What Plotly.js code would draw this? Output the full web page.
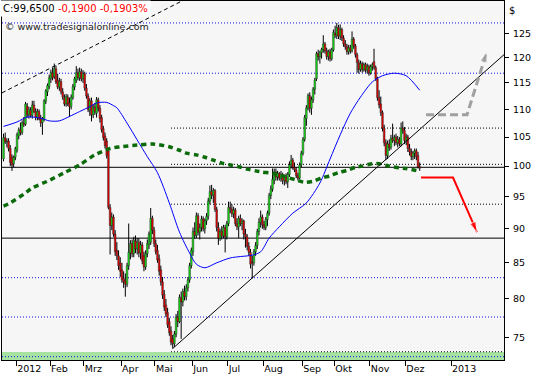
<!DOCTYPE html>
<html><head><meta charset="utf-8">
<script src="https://cdn.plot.ly/plotly-3.0.1.min.js"></script>
<style>html,body{margin:0;padding:0;background:#fff}#chart{width:540px;height:380px}</style>
</head><body><div id="chart"></div>
<script>
// ---- daily OHLC (trading days from 2011-12-20) ----
const open = [101.2,104.9,104.2,104.3,103.0,101.5,100.4,101.5,102.7,105.2,
106.3,105.8,107.5,107.3,110.6,109.0,109.8,108.9,110.8,109.6,
108.5,109.6,108.3,107.6,108.2,111.5,113.3,114.3,115.8,117.0,
116.2,117.8,115.5,114.2,115.3,113.3,112.2,111.0,112.3,111.2,
110.5,112.2,114.2,115.5,117.0,116.0,117.2,115.8,116.8,114.0,
112.5,109.8,111.6,109.0,110.4,109.3,111.8,110.2,108.5,106.5,
105.2,104.3,102.6,93.3,90.5,91.8,89.2,86.8,86.0,85.0,
84.0,82.8,82.5,82.0,84.6,86.4,87.8,86.3,88.2,87.0,
88.0,86.4,87.6,86.0,84.4,86.3,87.6,88.0,91.6,89.8,
87.8,86.8,85.6,84.0,82.3,80.6,79.2,78.2,77.0,75.8,
74.8,74.2,75.4,77.6,77.0,80.2,79.6,81.0,80.3,81.5,
82.6,84.6,86.6,89.6,89.0,92.0,89.5,90.2,91.5,90.0,
91.2,91.9,94.3,95.8,95.2,96.0,93.0,90.2,88.6,89.6,
88.9,90.2,88.8,90.8,93.3,93.0,92.3,92.9,90.8,90.3,
91.6,90.8,91.2,89.2,88.8,87.4,86.5,85.2,85.0,86.6,
87.5,89.6,91.0,91.8,90.6,90.2,91.4,92.4,95.2,96.2,
97.6,99.0,98.2,98.8,98.0,98.6,97.6,98.2,97.4,98.6,
100.2,101.0,99.8,99.4,98.4,98.0,100.2,102.2,104.6,108.3,
110.3,112.6,110.2,111.8,113.8,115.8,120.8,120.2,121.0,121.6,
122.8,121.4,120.2,121.2,119.8,121.6,125.0,124.6,126.2,124.4,
125.8,124.0,122.8,122.2,121.2,122.0,121.4,123.8,122.4,120.6,
119.0,117.6,118.8,117.6,118.6,117.5,118.2,116.9,118.2,119.2,
118.0,115.8,112.2,111.0,109.4,106.6,104.0,101.8,103.8,103.2,
104.8,104.4,105.0,104.0,104.6,103.8,106.6,106.2,104.4,105.0,
103.0,102.4,101.6,102.2,102.6,101.8,99.9];
const high = [105.6,105.8,104.8,104.8,103.6,102.0,101.8,103.3,105.8,106.7,
107.6,108.0,108.6,111.4,111.2,110.5,110.4,111.6,111.6,110.2,
110.1,110.0,109.0,108.6,111.9,113.8,114.9,116.6,117.6,118.0,
118.8,118.4,116.8,116.0,115.8,114.0,112.8,112.9,112.8,112.2,
112.8,114.8,116.2,118.3,117.8,118.0,117.8,117.5,117.2,114.8,
113.0,112.1,112.2,110.9,111.2,112.3,112.2,110.8,109.0,107.0,
105.8,104.8,103.0,93.8,92.5,92.2,89.8,88.0,86.8,85.8,
85.0,83.8,83.5,85.0,90.8,88.3,88.4,88.8,89.0,88.6,
88.6,88.2,88.0,86.6,86.8,88.4,89.6,93.2,92.0,90.3,
88.4,87.6,86.2,84.6,83.0,81.2,80.0,78.8,77.5,76.4,
75.3,75.8,78.0,78.4,80.6,81.0,81.4,81.8,82.0,83.0,
85.0,87.2,90.2,91.0,92.5,92.4,90.8,92.0,91.9,91.6,
92.4,94.8,96.8,96.9,96.4,96.2,93.4,91.0,90.0,90.4,
90.6,90.6,91.2,94.2,94.2,93.8,93.4,93.2,91.6,92.0,
92.2,91.6,91.4,90.0,89.2,88.0,87.0,86.0,87.0,88.0,
90.0,91.6,92.8,92.2,91.2,91.8,92.8,95.6,96.8,99.6,
99.6,99.6,99.2,99.0,99.2,98.9,98.6,98.8,99.0,100.8,
101.9,101.4,100.6,99.8,98.9,100.6,102.6,105.0,109.0,110.8,
113.0,113.2,112.4,114.2,116.0,121.2,121.6,121.4,122.0,124.6,
123.2,122.0,121.6,121.8,122.0,125.8,126.6,127.2,126.8,126.9,
126.2,124.6,123.6,122.8,122.6,122.6,125.4,124.2,122.8,121.0,
119.6,119.4,119.2,119.0,119.0,118.8,118.6,118.6,119.0,121.8,
118.4,116.2,113.6,112.4,109.8,107.2,104.6,104.4,104.6,105.4,
107.4,105.4,105.6,105.2,105.0,107.6,107.8,106.8,105.6,105.4,
103.8,103.0,102.6,103.0,103.0,102.4,100.6];
const low = [100.8,103.8,103.2,102.5,100.0,99.2,99.8,101.0,102.3,104.6,
105.3,105.4,106.8,107.0,108.5,108.3,108.5,108.3,109.3,108.0,
108.0,108.0,106.8,105.4,107.8,111.0,112.5,113.8,115.0,115.5,
115.8,114.8,113.8,113.5,112.8,111.8,110.6,110.5,110.6,108.6,
110.0,111.8,113.6,115.0,115.5,115.4,115.3,115.0,113.5,112.0,
109.5,108.8,107.8,108.4,109.0,108.5,109.6,107.6,105.8,104.4,
103.0,101.3,93.0,86.2,89.8,88.8,86.0,85.4,84.0,83.0,
82.2,81.5,80.3,81.6,84.0,85.5,85.8,85.8,86.4,86.2,
85.8,85.5,84.8,83.8,84.0,85.8,87.0,87.6,89.2,87.3,
86.2,85.0,83.2,81.8,80.0,78.4,77.6,76.2,75.2,74.0,
73.6,73.8,75.0,76.3,76.8,74.8,79.0,79.8,79.8,81.0,
82.2,84.2,86.0,88.5,88.6,89.0,88.4,89.6,89.6,89.3,
90.6,91.4,93.8,94.6,94.0,92.6,89.6,87.6,88.2,88.4,
88.6,86.5,88.4,90.4,92.4,91.8,91.6,90.4,89.8,88.6,
90.4,89.8,88.4,87.2,86.8,86.0,84.2,82.8,84.6,86.0,
87.0,89.0,90.2,90.0,89.8,89.8,90.4,92.0,94.6,95.8,
97.0,97.6,97.6,97.6,97.4,97.0,96.8,97.0,96.4,98.2,
99.6,99.4,99.0,98.0,97.6,97.8,99.8,101.8,104.2,107.0,
109.8,109.4,109.0,111.2,112.8,115.4,119.4,118.8,119.8,121.0,
120.8,119.6,119.4,119.2,119.4,121.2,124.0,123.8,123.8,123.6,
123.4,122.2,121.6,120.6,120.6,120.8,121.0,121.8,120.0,117.0,
116.8,117.2,117.0,117.2,117.0,116.8,116.4,116.6,117.4,117.6,
115.4,111.6,110.2,108.8,106.0,103.4,101.0,101.2,102.6,102.8,
104.0,103.4,103.6,103.2,103.4,103.4,105.6,103.8,103.6,102.4,
101.8,101.0,101.0,101.2,101.0,99.6,99.2];
const close = [104.9,104.2,104.3,103.0,100.6,100.2,101.5,103.0,105.4,106.3,
105.8,107.6,107.2,111.0,109.0,110.0,108.9,110.8,109.6,108.5,
109.6,108.2,107.5,108.2,111.6,113.5,114.5,116.0,117.0,116.0,
117.8,115.2,114.2,115.3,113.3,112.3,111.0,112.4,111.0,110.5,
112.3,114.3,115.8,117.0,116.0,117.2,115.8,116.8,114.0,112.5,
110.0,111.6,109.0,110.4,109.6,111.8,110.2,108.3,106.3,104.9,
103.5,101.8,93.3,90.5,91.8,89.2,86.6,86.0,84.6,83.8,
82.6,82.3,82.0,84.6,86.5,87.8,86.3,88.3,87.0,88.0,
86.4,87.6,85.3,84.4,86.3,87.8,89.2,91.6,89.8,87.8,
86.6,85.4,83.8,82.3,80.5,78.9,78.0,76.6,75.6,74.4,
74.2,75.4,77.6,77.0,80.2,79.6,81.0,80.3,81.5,82.6,
84.6,86.8,89.6,89.0,92.0,89.5,90.2,91.5,90.0,91.2,
91.9,94.3,95.8,95.2,96.0,93.0,90.2,88.6,89.6,88.9,
90.2,88.8,90.8,93.3,93.0,92.3,92.9,90.8,90.3,91.6,
90.8,91.2,89.2,88.8,87.4,86.5,84.8,85.0,86.6,87.5,
89.6,91.0,91.8,90.6,90.2,91.4,92.4,95.2,96.2,97.8,
99.0,98.2,98.8,98.0,98.6,97.6,98.2,97.4,98.6,100.2,
101.0,99.8,99.4,98.4,98.0,100.2,102.2,104.6,108.5,110.3,
112.6,110.2,111.8,113.8,115.6,120.8,120.2,121.0,121.6,122.8,
121.4,120.2,121.2,119.8,121.6,125.2,124.6,126.2,124.4,125.8,
124.0,122.8,122.2,121.2,122.0,121.4,123.8,122.4,120.6,119.0,
117.6,118.8,117.6,118.6,117.5,118.2,116.9,118.2,118.6,118.0,
115.8,112.2,110.8,109.4,106.6,104.0,101.8,103.8,103.2,104.8,
104.4,105.0,104.0,104.6,103.8,106.6,106.2,104.4,105.0,103.0,
102.4,101.6,102.2,102.6,101.6,99.84,99.65];

const firstDay = '2011-12-20';
const holidays = ['2011-12-26','2012-01-02','2012-01-16','2012-02-20','2012-04-06','2012-05-28',
  '2012-07-04','2012-09-03','2012-10-29','2012-10-30','2012-11-22'];

// moving averages (trading-day index, value)
const blueIdx = [0,8,14,22,27,33,39,45,51,55,61,65,67,73,79,85,91,98,104,110,114,119,126,134,140,147,152,157,163,171,179,187,193,199,205,211,218,224,231,238,246];
const blueVal = [106.9,107.7,108.6,108.4,107.9,107.9,108.7,109.6,110.5,111.2,111.3,110.7,110.3,107.5,104.5,101.6,98.9,94.0,89.5,86.4,84.8,84.3,85.0,85.7,85.9,86.1,86.6,88.6,90.3,92.4,94.0,97.2,101.2,105.4,109.3,112.3,115.2,116.4,116.9,116.4,113.6];
const greenIdx = [0,4,13,17,26,36,45,54,63,69,79,88,98,104,108,114,119,124,129,134,139,144,149,153,159,163,173,178,183,188,193,198,203,208,212,218,222,228,234,238,245];
const greenVal = [93.5,94.0,95.6,96.4,97.5,98.9,100.2,101.9,103.0,103.3,103.6,103.8,103.3,102.7,102.2,101.9,101.5,101.0,100.5,100.2,99.9,99.5,99.2,99.0,98.8,98.5,97.7,97.3,97.5,98.0,98.4,98.9,99.3,99.8,100.0,100.4,100.4,100.0,99.7,99.6,99.2];

// horizontal levels
const blueLevels = [127.2, 116.9, 82.9, 77.6, 72.6];
const solidLevels = [99.8, 88.6];
const dottedLevels = [106.6, 100.3, 93.8, 73.2];
const dottedFromIdx = 99;

// trend lines
const upTrendIdx = 100, upTrendFrom = 73.6, upTrendToDate = '2013-02-01 07:40', upTrendTo = 120.6;
const oldTrendFromDate = '2011-12-19 14:35', oldTrendFrom = 113.1, oldTrendToIdx = 105, oldTrendTo = 131.9;

// projection arrows
const bullX = ['2012-12-17 05:17','2013-01-10 10:50','2013-01-22 06:30'];
const bullY = [109.0, 109.0, 121.3];
const bearX = ['2012-12-14 06:23','2013-01-02 04:19','2013-01-16 08:40'];
const bearY = [98.1, 98.1, 89.5];

const tickVals = ['2012-01-03','2012-02-01','2012-03-01','2012-04-02','2012-05-01','2012-06-01','2012-07-02','2012-08-01','2012-09-04','2012-10-01','2012-11-01','2012-12-03','2013-01-01'];
const tickLabels = ['2012','Feb','Mrz','Apr','Mai','Jun','Jul','Aug','Sep','Okt','Nov','Dez','2013'];
const yTicks = [75,80,85,90,95,100,105,110,115,120,125];

// ---- build trading calendar ----
const days = [], offDays = [];
let t = Date.parse(firstDay + 'T00:00:00Z');
while (days.length < close.length) {
  const d = new Date(t), s = d.toISOString().slice(0,10), wd = d.getUTCDay();
  if (wd === 0 || wd === 6 || holidays.includes(s)) offDays.push(s); else days.push(s);
  t += 86400000;
}
const X = days.map(s => s + ' 12:00');

const bodyBase = [], bodyH = [], bodyCol = [], wx = [], wy = [];
for (let i = 0; i < close.length; i++) {
  const top = Math.max(open[i], close[i]), bot = Math.min(open[i], close[i]);
  bodyBase.push(bot);
  bodyH.push(Math.max(top - bot, 0.1));
  bodyCol.push(close[i] >= open[i] ? '#14e614' : '#f00000');
  wx.push(X[i], X[i], null, X[i], X[i], null);
  wy.push(high[i], top, null, bot, low[i], null);
}

const traces = [
  {type:'scatter', mode:'lines', x:wx, y:wy, line:{color:'#000', width:1}, connectgaps:false},
  {type:'bar', x:X, base:bodyBase, y:bodyH, width:0.98*86400000,
   marker:{color:bodyCol, line:{color:'#111', width:0.45}}},
  {type:'scatter', mode:'lines', x:blueIdx.map(i=>X[i]), y:blueVal, line:{color:'#0000ff', width:1, shape:'spline', smoothing:0.8}},
  {type:'scatter', mode:'lines', x:greenIdx.map(i=>X[i]), y:greenVal, line:{color:'#0b6b0b', width:3.5, dash:'5px,4px', shape:'spline', smoothing:0.8}},
  {type:'scatter', mode:'lines', x:[X[upTrendIdx], upTrendToDate], y:[upTrendFrom, upTrendTo], line:{color:'#000', width:1}},
  {type:'scatter', mode:'lines', x:[oldTrendFromDate, X[oldTrendToIdx]], y:[oldTrendFrom, oldTrendTo], line:{color:'#000', width:1, dash:'4px,3px'}},
  {type:'scatter', mode:'lines', x:bullX, y:bullY, line:{color:'#a0a0a0', width:3, dash:'8px,4px'}},
  {type:'scatter', mode:'markers', x:bullX.slice(1), y:bullY.slice(1), marker:{symbol:'arrow', size:[0,12], angleref:'previous', color:'#a0a0a0'}},
  {type:'scatter', mode:'lines', x:bearX, y:bearY, line:{color:'#ff0000', width:2}},
  {type:'scatter', mode:'markers', x:bearX.slice(1), y:bearY.slice(1), marker:{symbol:'arrow', size:[0,11], angleref:'previous', color:'#ff0000'}}
];

const xEnd = '2013-02-01 07:40';
const shapes = [{type:'rect', xref:'paper', yref:'paper', x0:0, x1:1, y0:0, y1:0.0223, fillcolor:'#a6e3a0', line:{width:0}, layer:'below'}];
blueLevels.forEach(v => shapes.push({type:'line', xref:'paper', yref:'y', x0:0, x1:1, y0:v, y1:v, line:{color:'#1010ee', width:1, dash:'1px,2px'}, layer:'below'}));
solidLevels.forEach(v => shapes.push({type:'line', xref:'paper', yref:'y', x0:0, x1:1, y0:v, y1:v, line:{color:'#000', width:1}, layer:'below'}));
dottedLevels.forEach(v => shapes.push({type:'line', xref:'x', yref:'y', x0:X[dottedFromIdx], x1:xEnd, y0:v, y1:v, line:{color:'#000', width:1, dash:'1px,2px'}, layer:'below'}));

const last = close[close.length-1], prev = close[close.length-2];
const fmt = (v, n) => v.toFixed(n).replace('.', ',');
const chg = last - prev, pct = chg / prev * 100;

const annotations = [
  {xref:'paper', yref:'paper', x:0, y:1, xanchor:'left', yanchor:'top', xshift:-2, yshift:1, showarrow:false,
   bgcolor:'#ffffff', borderpad:2, align:'left', font:{size:10, color:'#000'},
   text:'C:' + fmt(last,4) + ' <span style="color:#ff0000">' + fmt(chg,4) + ' ' + fmt(pct,4) + '%</span>'},
  {xref:'paper', yref:'paper', x:0, y:0.9276, xanchor:'left', yanchor:'middle', xshift:1, showarrow:false,
   font:{size:9.5, color:'#222'}, text:'© www.tradesignalonline.com'},
  {xref:'paper', yref:'paper', x:1, y:0.9735, xanchor:'center', yanchor:'middle', xshift:7.5, showarrow:false,
   font:{size:10, color:'#000'}, text:'$'}
];

const layout = {
  width:540, height:380,
  margin:{l:2, r:36, t:1, b:20, pad:0},
  paper_bgcolor:'#ffffff', plot_bgcolor:'#f6f6f6',
  showlegend:false, hovermode:false, dragmode:false,
  font:{family:'DejaVu Sans', size:9.5, color:'#000'},
  xaxis:{type:'date', range:[oldTrendFromDate, xEnd], rangebreaks:[{values:offDays}],
    rangeslider:{visible:false}, tickmode:'array', tickvals:tickVals, ticktext:tickLabels,
    ticks:'outside', ticklen:5, tickwidth:1, tickcolor:'#000', ticklabelposition:'outside right',
    showline:true, mirror:true, linecolor:'#000', linewidth:1, showgrid:false, zeroline:false, fixedrange:true,
    tickfont:{size:9.5}},
  yaxis:{type:'log', side:'right', range:[1.8585, 2.1205], tickmode:'array', tickvals:yTicks, ticktext:yTicks.map(String),
    ticks:'outside', ticklen:4, tickwidth:1, tickcolor:'#000', ticklabelstandoff:2,
    showline:true, mirror:true, linecolor:'#000', linewidth:1, showgrid:false, zeroline:false, fixedrange:true,
    tickfont:{size:9.5}},
  bargap:0, shapes:shapes, annotations:annotations
};

Plotly.newPlot('chart', traces, layout, {displayModeBar:false, staticPlot:true});
</script></body></html>
